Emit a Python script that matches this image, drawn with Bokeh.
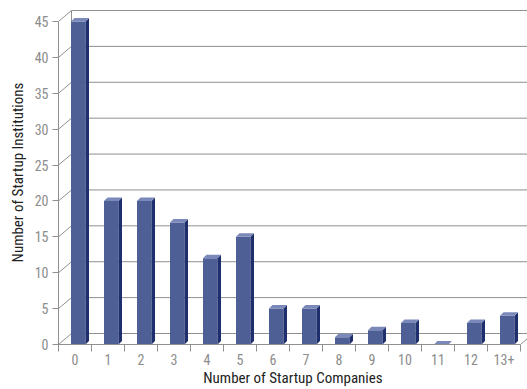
from bokeh.plotting import figure
from bokeh.models import Range1d, FixedTicker, LinearAxis
from bokeh.embed import file_html
from bokeh.resources import INLINE

# ---- data ----
categories = ["0", "1", "2", "3", "4", "5", "6", "7", "8", "9", "10", "11", "12", "13+"]
institutions = [45, 20, 20, 17, 12, 15, 5, 5, 1, 2, 3, 0, 3, 4]
y_ticks = [0, 5, 10, 15, 20, 25, 30, 35, 40, 45]
x_title = "Number of Startup Companies"
y_title = "Number of Startup Institutions"

# ---- geometry (pixel sizes converted to data units) ----
PX_X = 33.0
PX_Y = 7.178
WALL_DX = 13 / PX_X
WALL_DY = 11 / PX_Y
BAR_OFF = 12.5 / PX_X
BAR_W = 14.5 / PX_X
BAR_DX = 3.5 / PX_X
BAR_DY = 3.5 / PX_Y
n = len(categories)
x_end = n + 7 / PX_X
y_end = 344 / PX_Y
ymax = y_ticks[-1]

FONT = "Liberation Sans Narrow, Roboto Condensed, Arial Narrow, sans-serif"
GRID = "#8f8f8f"
FRONT = "#4e5f96"
SIDE = "#1f2f6e"
TOP = "#7b88ba"

p = figure(width=527, height=389, x_range=Range1d(0, x_end), y_range=Range1d(0, y_end),
           output_backend="svg", toolbar_location=None,
           min_border_left=58, min_border_bottom=44, min_border_top=0, min_border_right=0,
           outline_line_color=None, x_axis_type=None, y_axis_type=None,
           background_fill_color="white", border_fill_color="white")

# ---- 3D back wall ----
p.segment(x0=[WALL_DX] * len(y_ticks), y0=[t + WALL_DY for t in y_ticks],
          x1=[x_end] * len(y_ticks), y1=[t + WALL_DY for t in y_ticks],
          line_color=GRID, line_width=1)
p.segment(x0=[0] * len(y_ticks), y0=y_ticks,
          x1=[WALL_DX] * len(y_ticks), y1=[t + WALL_DY for t in y_ticks],
          line_color=GRID, line_width=1)
p.segment(x0=[WALL_DX], y0=[WALL_DY], x1=[WALL_DX], y1=[ymax + WALL_DY],
          line_color=GRID, line_width=1)
p.segment(x0=[n], y0=[0], x1=[n + WALL_DX], y1=[WALL_DY], line_color=GRID, line_width=1)

# ---- bars ----
lefts = [i + BAR_OFF for i in range(n)]
rights = [l + BAR_W for l in lefts]
p.quad(left=lefts, right=rights, bottom=[0] * n, top=institutions,
       fill_color=FRONT, line_color=None)
p.patches(xs=[[r, r + BAR_DX, r + BAR_DX, r] for r in rights],
          ys=[[0, BAR_DY, v + BAR_DY, v] for v in institutions],
          fill_color=SIDE, line_color=None)
p.patches(xs=[[l, l + BAR_DX, r + BAR_DX, r] for l, r in zip(lefts, rights)],
          ys=[[v, v + BAR_DY, v + BAR_DY, v] for v in institutions],
          fill_color=TOP, line_color=None)

# ---- axes ----
yaxis = LinearAxis(ticker=FixedTicker(ticks=y_ticks), bounds=(0, ymax),
                   axis_label=y_title)
yaxis.axis_line_color = GRID
yaxis.major_tick_line_color = GRID
yaxis.major_tick_out = 6
yaxis.major_tick_in = 0
yaxis.minor_tick_line_color = None
yaxis.major_label_standoff = 4
yaxis.major_label_text_font = FONT
yaxis.major_label_text_font_size = "14px"
yaxis.major_label_text_color = "#8c8c8c"
yaxis.axis_label_text_font = FONT
yaxis.axis_label_text_font_size = "15px"
yaxis.axis_label_text_font_style = "normal"
yaxis.axis_label_text_color = "#222222"
yaxis.axis_label_standoff = 5
p.add_layout(yaxis, "left")

centers = [i + 0.5 for i in range(n)]
xaxis = LinearAxis(ticker=FixedTicker(ticks=centers, minor_ticks=list(range(n + 1))),
                   bounds=(0, n), axis_label=x_title)
xaxis.major_label_overrides = {c: lab for c, lab in zip(centers, categories)}
xaxis.axis_line_color = GRID
xaxis.major_tick_line_color = None
xaxis.major_tick_out = 0
xaxis.major_tick_in = 0
xaxis.minor_tick_line_color = GRID
xaxis.minor_tick_out = 7
xaxis.minor_tick_in = 0
xaxis.major_label_standoff = 2
xaxis.major_label_text_font = FONT
xaxis.major_label_text_font_size = "14px"
xaxis.major_label_text_line_height = 1.0
xaxis.major_label_text_color = "#8c8c8c"
xaxis.axis_label_text_font = FONT
xaxis.axis_label_text_font_size = "15px"
xaxis.axis_label_text_line_height = 1.0
xaxis.axis_label_text_font_style = "normal"
xaxis.axis_label_text_color = "#222222"
xaxis.axis_label_standoff = 1
p.add_layout(xaxis, "below")

open("out.html", "w").write(file_html(p, INLINE))
